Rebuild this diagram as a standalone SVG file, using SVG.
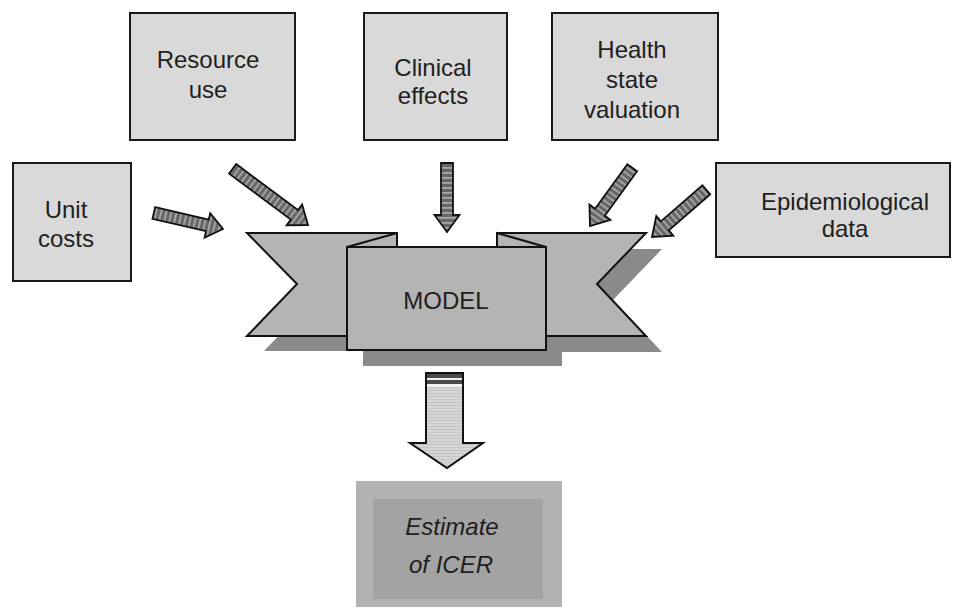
<svg xmlns="http://www.w3.org/2000/svg" width="961" height="609" viewBox="0 0 961 609">
<style>
.box{fill:#d9d9d9;stroke:#1a1a1a;stroke-width:2}
.lbl{font-family:"Liberation Sans",Arial,sans-serif;font-size:24px;fill:#1e1e1e;text-anchor:middle}
.rib{fill:#b4b4b4;stroke:#111;stroke-width:2;stroke-linejoin:miter}
.shadow{fill:#8a8a8a}
.arr{fill:url(#hatch);stroke:#111;stroke-width:1.8;stroke-linejoin:miter}
</style>
<defs>
<pattern id="hatch" patternUnits="userSpaceOnUse" width="5" height="5">
<rect width="5" height="5" fill="#676767"/>
<rect width="1.8" height="5" fill="#a8a8a8"/>
</pattern>
<pattern id="hstripe" patternUnits="userSpaceOnUse" width="4" height="3">
<rect width="4" height="3" fill="#d6d6d6"/>
<rect width="4" height="1" fill="#c4c4c4"/>
</pattern>
</defs>

<g id="resource-use">
<rect class="box" x="130" y="13" width="165" height="127"/>
<text class="lbl" x="208" y="68">Resource</text>
<text class="lbl" x="208" y="98">use</text>
</g>
<g id="clinical-effects">
<rect class="box" x="364" y="13" width="143" height="127"/>
<text class="lbl" x="433" y="76">Clinical</text>
<text class="lbl" x="433" y="104">effects</text>
</g>
<g id="health-state-valuation">
<rect class="box" x="552" y="13" width="166" height="127"/>
<text class="lbl" x="632" y="58">Health</text>
<text class="lbl" x="632" y="88">state</text>
<text class="lbl" x="632" y="118">valuation</text>
</g>
<g id="unit-costs">
<rect class="box" x="13" y="163" width="118" height="118"/>
<text class="lbl" x="66" y="218">Unit</text>
<text class="lbl" x="66" y="247">costs</text>
</g>
<g id="epidemiological-data">
<rect class="box" x="716" y="163" width="234" height="94"/>
<text class="lbl" x="845" y="210">Epidemiological</text>
<text class="lbl" x="845" y="237">data</text>
</g>

<g id="model">
<polygon class="shadow" points="264,248 414,248 414,351 264,351 314,299"/>
<polygon class="shadow" points="513,249 662,249 613,300 662,352 513,352"/>
<rect class="shadow" x="363" y="263" width="199" height="103"/>
<polygon class="rib" points="247,233 397,233 397,336 247,336 297,284"/>
<polygon class="rib" points="497,233 646,233 597,284 646,336 497,336"/>
<polygon class="rib" points="397,233 397,247 347,247"/>
<polygon class="rib" points="497,233 497,247 546,247"/>
<rect class="rib" x="347" y="247" width="199" height="103"/>
<text class="lbl" x="446" y="309">MODEL</text>
</g>

<g id="estimate-of-icer">
<rect x="356" y="481" width="206" height="126" fill="#b3b3b3"/>
<rect x="373" y="499" width="170" height="100" fill="#a3a3a3"/>
<text class="lbl" x="452" y="535" font-style="italic">Estimate</text>
<text class="lbl" x="451" y="573" font-style="italic">of ICER</text>
</g>

<g id="connectors">
<path class="arr" transform="translate(223,229) rotate(13)" d="M -71,-6 L -16,-6 L -16,-12.5 L 0,0 L -16,12.5 L -16,6 L -71,6 Z"/>
<path class="arr" transform="translate(308,225) rotate(36.7)" d="M -94,-6 L -17,-6 L -17,-13 L 0,0 L -17,13 L -17,6 L -94,6 Z"/>
<path class="arr" transform="translate(447,232) rotate(90)" d="M -69,-6 L -17,-6 L -17,-12.5 L 0,0 L -17,12.5 L -17,6 L -69,6 Z"/>
<path class="arr" transform="translate(590,226) rotate(125.9)" d="M -72,-6 L -17,-6 L -17,-13 L 0,0 L -17,13 L -17,6 L -72,6 Z"/>
<path class="arr" transform="translate(652,237) rotate(139)" d="M -72,-6 L -17,-6 L -17,-13 L 0,0 L -17,13 L -17,6 L -72,6 Z"/>
<g id="model-to-icer">
<path d="M 426,373 L 463,373 L 463,443 L 483,443 L 447,468 L 410,443 L 426,443 Z" fill="url(#hstripe)" stroke="#111" stroke-width="2" stroke-linejoin="miter"/>
<rect x="427" y="374" width="35" height="4" fill="#4a4a4a"/>
<rect x="427" y="378" width="35" height="2" fill="#eee"/>
<rect x="427" y="380" width="35" height="4" fill="#4a4a4a"/>
<rect x="427" y="384" width="35" height="3" fill="#f2f2f2"/>
</g>
</g>
</svg>
